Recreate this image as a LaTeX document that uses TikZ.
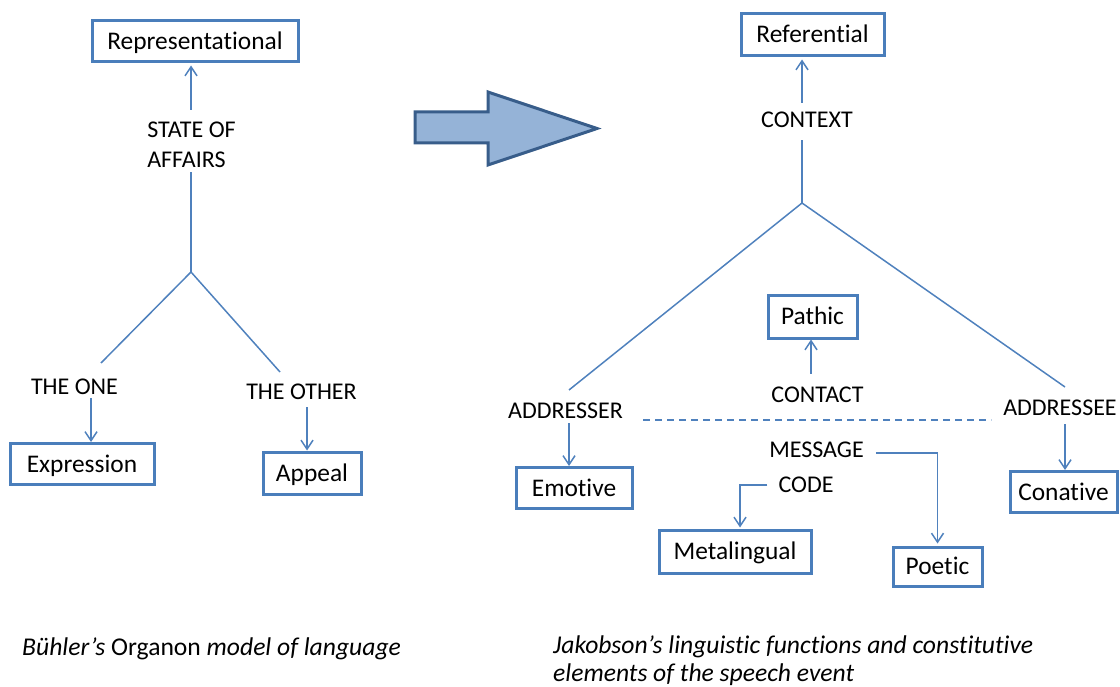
\documentclass[tikz,border=0pt]{standalone}
\usepackage{fontspec}
\setmainfont{Carlito}[Ligatures=NoCommon]
\usetikzlibrary{arrows.meta}

\definecolor{linkblue}{HTML}{4F81BD}
\definecolor{boxblue}{HTML}{4A7EBB}
\definecolor{bigfill}{HTML}{95B3D7}
\definecolor{bigedge}{HTML}{385D8A}

\tikzset{
  fnbox/.style={draw=boxblue, line width=3pt, fill=white,
    font=\fontsize{25.4}{30}\selectfont, inner sep=0pt,
    text height=19pt, text depth=3pt, minimum height=41pt},
  lbl/.style={font=\fontsize{24}{30}\selectfont, inner sep=0pt},
  capt/.style={font=\fontsize{25.6}{28}\selectfont, inner sep=0pt},
  link/.style={draw=linkblue, line width=1.5pt},
  arr/.style={link, -{Straight Barb[length=9pt,width=12pt]}},
  contactline/.style={link, dash pattern=on 7pt off 5pt}
}

\begin{document}
\begin{tikzpicture}[x=1pt,y=-1pt]
\useasboundingbox (0,0) rectangle (1120,687);

% ---------- Buehler's Organon model ----------
\node[fnbox, minimum width=206] (repr) at (195,41.5) {Representational};
\node[lbl, align=left] (state) at (191.5,145) {STATE OF\\AFFAIRS};
\node[lbl] (theone) at (74.5,387) {THE ONE};
\node[lbl] (theother) at (301.5,392) {THE OTHER};
\node[fnbox, minimum width=144] (expr) at (82,464) {Expression};
\node[fnbox, minimum width=98, minimum height=42] (appeal) at (312,473) {Appeal};
\coordinate (forkL) at (191,272);
\coordinate (oneend) at (101,363);
\coordinate (otherend) at (280,372);

\draw[arr, shorten <=12pt, shorten >=2pt] (forkL |- state.north) -- (forkL |- repr.south);
\draw[link, shorten <=4pt] (forkL |- state.south) -- (forkL);
\draw[link] (oneend) -- (forkL) -- (otherend);
\draw[arr, shorten <=3pt] ([xshift=16.5pt]theone.south) -- ([xshift=16.5pt]theone.south |- expr.north);
\draw[arr, shorten <=7pt] ([xshift=5.5pt]theother.south) -- ([xshift=5.5pt]theother.south |- appeal.north);

% ---------- block arrow ----------
\draw[bigedge, fill=bigfill, line width=3pt, line join=miter]
  (415,112) -- (488,112) -- (488,92) -- (597,128.5) -- (488,165) -- (488,143) -- (415,143) -- cycle;

% ---------- Jakobson's functions ----------
\node[fnbox, minimum width=143, minimum height=42] (refer) at (812.5,35) {Referential};
\node[lbl] (context) at (807,120) {CONTEXT};
\coordinate (forkR) at (802,203);
\coordinate (serend) at (569,390);
\coordinate (seeend) at (1065,387);
\node[fnbox, minimum width=89, minimum height=42] (pathic) at (812.5,317) {Pathic};
\node[lbl] (contact) at (817.5,395) {CONTACT};
\node[lbl] (addresser) at (565.5,411) {ADDRESSER};
\node[lbl] (addressee) at (1060,408) {ADDRESSEE};
\node[fnbox, minimum width=116] (emotive) at (574,488) {Emotive};
\node[fnbox, minimum width=107] (conative) at (1063.5,492) {Conative};
\node[lbl] (message) at (816.5,450) {MESSAGE};
\node[lbl] (code) at (806,485) {CODE};
\node[fnbox, minimum width=152, minimum height=43] (metal) at (735,551.5) {Metalingual};
\node[fnbox, minimum width=89, minimum height=39] (poetic) at (937.5,566.5) {Poetic};

\draw[arr, shorten <=9pt, shorten >=2pt] (forkR |- context.north) -- (forkR |- refer.south);
\draw[link, shorten <=12pt] (forkR |- context.south) -- (forkR);
\draw[link] (serend) -- (forkR) -- (seeend);
\draw[arr, shorten <=13pt] ([xshift=-6.5pt]contact.north) -- ([xshift=-6.5pt]contact.north |- pathic.south);
\draw[arr, shorten <=4pt] ([xshift=3.5pt]addresser.south) -- ([xshift=3.5pt]addresser.south |- emotive.north);
\draw[arr, shorten <=8pt] ([xshift=5pt]addressee.south) -- ([xshift=5pt]addressee.south |- conative.north);
\draw[contactline] ([xshift=20pt,yshift=-9pt]addresser.east) -- ([xshift=-12pt,yshift=-9pt]addresser.east -| addressee.west);
\draw[arr, shorten >=2pt] ([xshift=12pt,yshift=-3pt]message.east) -| (poetic.north);
\draw[arr, shorten >=1pt] ([xshift=-11pt]code.west) -| ([xshift=5pt]metal.north);

% ---------- captions ----------
\node[capt, anchor=base west] (capL) at (22,655) {\textit{Bühler’s} Organon \textit{model of language}};
\node[capt, anchor=north west, align=left] (capR) at (553,636)
  {\textit{Jakobson’s linguistic functions and constitutive}\\\textit{elements of the speech event}};
\end{tikzpicture}
\end{document}
